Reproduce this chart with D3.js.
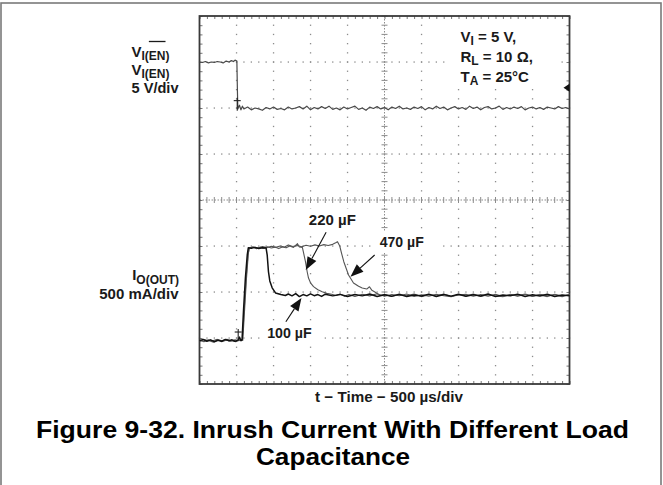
<!DOCTYPE html>
<html><head><meta charset="utf-8">
<script src="https://cdn.jsdelivr.net/npm/d3@7"></script>
<style>
html,body{margin:0;padding:0;background:#fff;}
svg{display:block;font-family:"Liberation Sans",Arial,Helvetica,sans-serif;font-weight:bold;}
</style>
</head><body>
<svg id="chart" width="663" height="485"></svg>
<script>
// ---------------- DATA ----------------
// time axis: µs relative to trigger, 500 µs/div, 10 divisions
const timeMajorTicks = [-500, 0, 500, 1000, 1500, 2000, 2500, 3000, 3500, 4000, 4500];
const divMajorTicks = [-4, -3, -2, -1, 0, 1, 2, 3, 4];

// Channel 1: V_I(EN) (volts), 5 V/div
const enTrace = [
  [-500,5.0],[-460,4.95],[-420,5.05],[-380,4.9],[-340,5.0],[-300,4.95],[-260,5.05],[-220,5.0],
  [-180,4.9],[-140,5.1],[-100,5.0],[-70,5.15],[-40,5.05],[-20,5.2],[5,5.1],[12,2.0],[18,-0.1],
  [40,0.3],[60,-0.2],[80,0.2],[100,-0.1],[150,0.1],[200,-0.2],[250,0.0],[300,-0.1],[350,-0.25],
  [400,0.05],[450,-0.1],[500,0.1],[550,-0.15],[600,-0.05],[650,-0.2],[700,0.1],[750,-0.1],
  [800,0.0],[850,0.15],[900,-0.1],[950,0.2],[1000,-0.2],[1050,0.05],[1100,-0.1],[1150,0.15],
  [1200,-0.05],[1250,0.2],[1300,-0.15],[1350,0.0],[1400,-0.2],[1450,0.1],[1500,-0.1],[1550,0.05],
  [1600,0.2],[1650,-0.15],[1700,0.0],[1750,-0.25],[1800,0.1],[1850,-0.05],[1900,0.15],[1950,-0.1],
  [2000,0.05],[2050,-0.2],[2100,0.1],[2150,-0.05],[2200,0.2],[2250,-0.1],[2300,0.0],[2350,-0.15],
  [2400,0.1],[2450,-0.05],[2500,0.15],[2550,-0.2],[2600,0.05],[2650,-0.1],[2700,0.2],[2750,-0.05],
  [2800,0.1],[2850,-0.2],[2900,0.0],[2950,0.15],[3000,-0.1],[3050,0.05],[3100,-0.15],[3150,0.2],
  [3200,-0.05],[3250,0.1],[3300,-0.2],[3350,0.05],[3400,0.15],[3450,-0.1],[3500,0.0],[3550,0.2],
  [3600,-0.15],[3650,0.05],[3700,-0.1],[3750,0.1],[3800,-0.05],[3850,0.15],[3900,-0.2],[3950,0.0],
  [4000,0.1],[4050,-0.1],[4100,0.05],[4150,-0.15],[4200,0.1],[4250,0.0],[4300,-0.1],[4350,0.15],
  [4400,-0.05],[4450,0.05],[4500,-0.1]
];

// Channel 2: I_O(OUT) (mA), 500 mA/div
const current100uF = [
  [-500,-30],[-450,-15],[-400,-35],[-350,-20],[-300,-40],[-250,-25],[-200,-35],[-150,-15],[-100,-30],
  [-60,-20],[-20,-35],[20,-25],[40,10],[60,-30],[75,-20],[95,300],[120,650],[145,900],[160,982],
  [200,975],[250,985],[300,972],[350,982],[400,978],[415,900],[432,720],[450,620],[482,545],
  [527,490],[600,472],[660,462],[700,478],[750,458],[800,482],[850,450],[900,472],[950,458],
  [1000,480],[1050,460],[1100,472],[1150,452],[1200,476],[1300,458],[1400,474],[1500,452],
  [1600,472],[1700,458],[1800,478],[1900,452],[2000,470],[2100,455],[2200,476],[2300,450],
  [2400,468],[2500,457],[2600,477],[2700,452],[2800,472],[2900,455],[3000,475],[3100,453],
  [3200,470],[3300,457],[3400,478],[3500,450],[3600,468],[3700,460],[3800,477],[3900,452],
  [4000,470],[4100,457],[4200,475],[4300,451],[4400,468],[4500,458]
];
const current220uF = [
  [-500,-25],[-440,-40],[-380,-20],[-320,-30],[-260,-15],[-200,-40],[-140,-25],[-80,-35],
  [-20,-20],[30,-30],[80,-20],[100,250],[130,650],[155,900],[170,975],[220,990],[270,970],
  [320,985],[370,975],[420,992],[470,978],[520,988],[570,972],[620,990],[670,980],[720,1000],
  [770,985],[824,1025],[850,990],[890,985],[905,930],[932,830],[955,720],[973,652],[1000,600],
  [1041,558],[1100,525],[1158,503],[1220,485],[1300,472],[1340,462],[1400,478],[1460,455],
  [1520,472],[1600,452],[1700,475],[1800,458],[1900,480],[2000,453],[2100,472],[2200,460],
  [2300,478],[2400,452],[2500,470],[2600,455],[2700,476],[2800,460],[2900,450],[3000,472],
  [3100,457],[3200,478],[3300,452],[3400,470],[3500,460],[3600,450],[3700,474],[3800,455],
  [3900,472],[4000,452],[4100,476],[4200,458],[4300,470],[4400,450],[4500,472]
];
const current470uF = [
  [-500,-35],[-430,-20],[-370,-30],[-310,-45],[-250,-20],[-190,-30],[-130,-15],[-70,-30],
  [-10,-40],[40,-20],[85,-25],[105,250],[135,650],[160,920],[175,980],[230,990],[290,978],
  [350,995],[410,982],[470,998],[530,985],[590,1000],[650,990],[700,1012],[760,995],[820,1005],
  [880,992],[940,1008],[1000,998],[1060,1012],[1120,1000],[1180,1015],[1240,1005],[1300,1018],
  [1340,1035],[1365,1047],[1395,1000],[1420,920],[1450,829],[1514,685],[1581,598],[1650,562],
  [1699,543],[1760,532],[1797,557],[1830,518],[1870,500],[1910,478],[1946,462],[2000,474],
  [2100,452],[2200,472],[2300,460],[2400,478],[2500,450],[2600,470],[2700,457],[2800,478],
  [2900,452],[3000,468],[3100,476],[3200,453],[3300,472],[3400,455],[3500,476],[3600,452],
  [3700,470],[3800,460],[3900,478],[4000,455],[4100,468],[4200,450],[4300,476],[4400,457],[4500,470]
];
const triggerLevelV = 2.2;

// text
const title1 = "Figure 9-32. Inrush Current With Different Load";
const title2 = "Capacitance";
const xAxisLabel = "t \u2212 Time \u2212 500 \u00b5s/div";

// ---------------- CHART ----------------
const svg = d3.select("#chart");
svg.append("rect").attr("width", 663).attr("height", 485).attr("fill", "#fff");
// outer frame
svg.append("rect").attr("x", 1).attr("y", 3).attr("width", 660).attr("height", 520)
  .attr("fill", "none").attr("stroke", "#7a7a7a").attr("stroke-width", 1.6);

const L = 199.5, R = 569.5, T = 16, B = 384;
const x = d3.scaleLinear().domain([-500, 4500]).range([L, R]);
const yDiv = d3.scaleLinear().domain([-4, 4]).range([B, T]);
const yEN = d3.scaleLinear().domain([-30, 10]).range([B, T]);     // 0 V at +2 div, 5 V/div
const yI = d3.scaleLinear().domain([-500, 3500]).range([B, T]);   // 0 mA at -3 div, 500 mA/div

const minorT = d3.range(-500, 4501, 100);
const minorDiv = d3.range(-40, 41, 2).map(v => v / 10);
const gridColor = "#8c8c8c";

const grat = svg.append("g");
// dotted major grid lines (dots at each minor subdivision)
timeMajorTicks.filter(t => t > -500 && t < 4500 && t !== 2000).forEach(t => {
  grat.selectAll(null).data(minorDiv).enter().append("rect")
    .attr("x", x(t) - 0.6).attr("y", d => yDiv(d) - 0.6).attr("width", 1.3).attr("height", 1.3)
    .attr("fill", gridColor);
});
divMajorTicks.filter(d => d > -4 && d < 4 && d !== 0).forEach(dv => {
  grat.selectAll(null).data(minorT).enter().append("rect")
    .attr("x", d => x(d) - 0.6).attr("y", yDiv(dv) - 0.6).attr("width", 1.3).attr("height", 1.3)
    .attr("fill", gridColor);
});
// center lines with cross ticks
grat.append("line").attr("x1", x(2000)).attr("x2", x(2000)).attr("y1", T).attr("y2", B)
  .attr("stroke", gridColor).attr("stroke-width", 1).attr("stroke-dasharray", "1.5,1.5");
grat.append("line").attr("x1", L).attr("x2", R).attr("y1", yDiv(0)).attr("y2", yDiv(0))
  .attr("stroke", gridColor).attr("stroke-width", 1).attr("stroke-dasharray", "1.5,1.5");
grat.selectAll(null).data(minorDiv).enter().append("line")
  .attr("x1", x(2000) - 3).attr("x2", x(2000) + 3).attr("y1", d => yDiv(d)).attr("y2", d => yDiv(d))
  .attr("stroke", gridColor).attr("stroke-width", 1);
grat.selectAll(null).data(minorT).enter().append("line")
  .attr("x1", d => x(d)).attr("x2", d => x(d)).attr("y1", yDiv(0) - 3).attr("y2", yDiv(0) + 3)
  .attr("stroke", gridColor).attr("stroke-width", 1);

// border minor ticks through d3 axes
function tickAxis(axis, tx, ty) {
  const g = svg.append("g").attr("transform", `translate(${tx},${ty})`).call(axis);
  g.select(".domain").remove();
  g.selectAll(".tick line").attr("stroke", "#777").attr("stroke-width", 1);
  g.selectAll("text").remove();
}
tickAxis(d3.axisBottom(x).tickValues(minorT).tickSize(3).tickFormat(""), 0, T);
tickAxis(d3.axisTop(x).tickValues(minorT).tickSize(3).tickFormat(""), 0, B);
tickAxis(d3.axisRight(yDiv).tickValues(minorDiv).tickSize(3).tickFormat(""), L, 0);
tickAxis(d3.axisLeft(yDiv).tickValues(minorDiv).tickSize(3).tickFormat(""), R, 0);

// plot border
svg.append("rect").attr("x", L).attr("y", T).attr("width", R - L).attr("height", B - T)
  .attr("fill", "none").attr("stroke", "#3a3a3a").attr("stroke-width", 1.8);

// white label backgrounds
const bgBoxes = [[450, 23, 107, 64], [302, 209, 58, 21], [374, 231, 64, 22], [261, 322, 60, 24]];
svg.selectAll(null).data(bgBoxes).enter().append("rect")
  .attr("x", d => d[0]).attr("y", d => d[1]).attr("width", d => d[2]).attr("height", d => d[3])
  .attr("fill", "#fff");

// traces
const lineEN = d3.line().x(d => x(d[0])).y(d => yEN(d[1]));
const lineI = d3.line().x(d => x(d[0])).y(d => yI(d[1]));
svg.append("path").datum(enTrace).attr("d", lineEN).attr("fill", "none")
  .attr("stroke", "#4a4a4a").attr("stroke-width", 1.2).attr("stroke-linejoin", "round");
svg.append("path").datum(current470uF).attr("d", lineI).attr("fill", "none")
  .attr("stroke", "#555").attr("stroke-width", 1.1).attr("stroke-linejoin", "round");
svg.append("path").datum(current220uF).attr("d", lineI).attr("fill", "none")
  .attr("stroke", "#555").attr("stroke-width", 1.1).attr("stroke-linejoin", "round");
svg.append("path").datum(current100uF).attr("d", lineI).attr("fill", "none")
  .attr("stroke", "#111").attr("stroke-width", 1.5).attr("stroke-linejoin", "round");

// trigger markers
function tMarker(xp, yTop, yBot) {
  svg.append("line").attr("x1", xp - 3.5).attr("x2", xp + 3.5).attr("y1", yTop).attr("y2", yTop)
    .attr("stroke", "#222").attr("stroke-width", 1.1);
  svg.append("line").attr("x1", xp).attr("x2", xp).attr("y1", yTop - 3).attr("y2", yBot)
    .attr("stroke", "#222").attr("stroke-width", 1.1);
}
tMarker(x(10), yEN(0.8), yEN(-0.3));
tMarker(x(23), yI(65), yI(-20));
// trigger level marker on right edge
const ty = yEN(triggerLevelV);
svg.append("path").attr("d", `M${R - 6},${ty} L${R},${ty - 4} L${R},${ty + 4} Z`).attr("fill", "#111");

// arrows (tail -> tip, data coords)
function arrow(t0, i0, t1, i1) {
  const x0 = x(t0), y0 = yI(i0), x1 = x(t1), y1 = yI(i1);
  const ang = Math.atan2(y1 - y0, x1 - x0), len = 13, hw = 5;
  const bx = x1 - len * Math.cos(ang), by = y1 - len * Math.sin(ang);
  svg.append("line").attr("x1", x0).attr("y1", y0).attr("x2", bx).attr("y2", by)
    .attr("stroke", "#111").attr("stroke-width", 1.1);
  const px = -Math.sin(ang) * hw, py = Math.cos(ang) * hw;
  svg.append("path").attr("d", `M${x1},${y1} L${bx + px},${by + py} L${bx - px},${by - py} Z`).attr("fill", "#111");
}
arrow(1211, 1149, 936, 739);
arrow(1867, 902, 1540, 666);
arrow(667, 177, 878, 435);

// capacitance labels
const capLabels = [["220 \u00b5F", 977, 1228, 47], ["470 \u00b5F", 1936, 986, 44], ["100 \u00b5F", 415, 0, 44.5]];
svg.selectAll(null).data(capLabels).enter().append("text")
  .attr("x", d => x(d[1])).attr("y", d => yI(d[2])).attr("font-size", 15).attr("fill", "#1a1a1a")
  .attr("textLength", d => d[3]).attr("lengthAdjust", "spacingAndGlyphs").text(d => d[0]);

// text with subscripts
function subText(xp, yp, parts, anchor, size) {
  const t = svg.append("text").attr("x", xp).attr("y", yp).attr("font-size", size || 15)
    .attr("fill", "#1a1a1a").attr("text-anchor", anchor || "start");
  parts.forEach(p => {
    const s = t.append("tspan").text(p[0]);
    if (p[1]) s.attr("font-size", 12).attr("dy", 3.5);
    else if (p[2]) s.attr("dy", -3.5);
  });
  return t;
}
const en1 = subText(131.5, 56.5, [["V"], ["I(EN)", true]]);
subText(131.5, 74.5, [["V"], ["I(EN)", true]]);
subText(131.5, 92.7, [["5 V/div"]], "start", 14.6);
// overline over EN (first label)
const n = en1.node();
const ex0 = n.getStartPositionOfChar(3).x, ex1 = n.getEndPositionOfChar(4).x;
svg.append("line").attr("x1", ex0).attr("x2", ex1).attr("y1", 41.5).attr("y2", 41.5)
  .attr("stroke", "#1a1a1a").attr("stroke-width", 1.3);

subText(179, 280, [["I"], ["O(OUT)", true]], "end");
subText(178.5, 299.3, [["500 mA/div"]], "end");

subText(460.5, 41.7, [["V"], ["I", true], [" = 5 V,", false, true]]);
subText(460.5, 61.7, [["R"], ["L", true], [" = 10 \u03a9,", false, true]]);
subText(460.5, 81.7, [["T"], ["A", true], [" = 25\u00b0C", false, true]]);

// axis label and title
svg.append("text").attr("x", 389).attr("y", 402).attr("text-anchor", "middle").attr("font-size", 15)
  .attr("fill", "#1a1a1a").attr("textLength", 148).attr("lengthAdjust", "spacingAndGlyphs").text(xAxisLabel);
svg.append("text").attr("x", 332.5).attr("y", 438).attr("text-anchor", "middle").attr("font-size", 24.5)
  .attr("fill", "#000").attr("textLength", 593).attr("lengthAdjust", "spacingAndGlyphs").text(title1);
svg.append("text").attr("x", 333).attr("y", 464.5).attr("text-anchor", "middle").attr("font-size", 24.5)
  .attr("fill", "#000").attr("textLength", 154).attr("lengthAdjust", "spacingAndGlyphs").text(title2);
</script>
</body></html>
